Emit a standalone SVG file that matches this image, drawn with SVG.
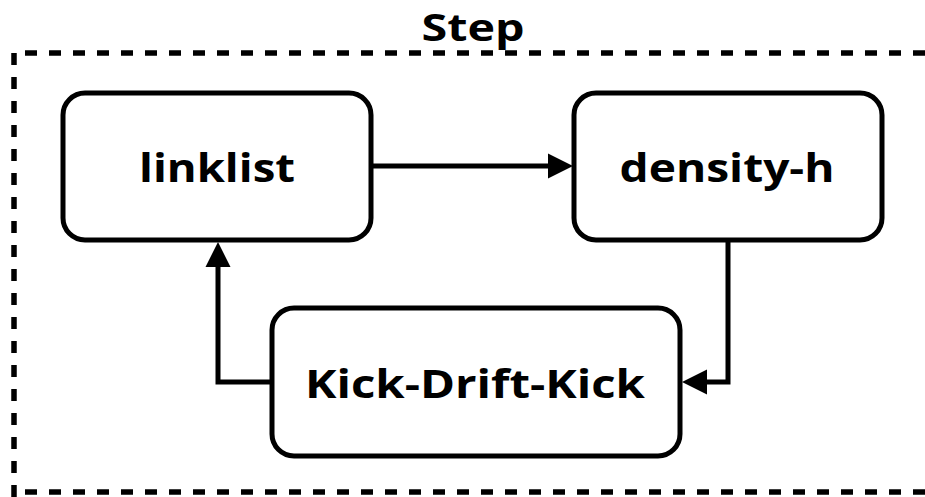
<svg xmlns="http://www.w3.org/2000/svg" width="925" height="497" viewBox="0 0 925 497">
<defs>
<style>
.node{fill:#fff;stroke:#000;stroke-width:5}
.lbl{font-family:"Open Sans","Liberation Sans",sans-serif;font-weight:700;font-size:40px;fill:#000;text-anchor:middle}
.edge{fill:none;stroke:#000;stroke-width:5}
.dash{fill:none;stroke:#000;stroke-width:5.5;stroke-dasharray:12 12}
</style>
</defs>
<rect width="925" height="497" fill="#fff"/>
<g id="step">
<path class="dash" d="M25 53 H940"/>
<path class="dash" d="M14 53 V500"/>
<path class="dash" d="M25 492 H940"/>
<text x="473" y="40.5" class="lbl" style="font-size:37px" textLength="103" lengthAdjust="spacingAndGlyphs">Step</text>
</g>
<g id="edges">
<path class="edge" d="M370 166 H550"/>
<polygon points="573,166 548,153.5 548,178.5" fill="#000"/>
<path class="edge" d="M728 240 V382 H705"/>
<polygon points="682,382 707,369.5 707,394.5" fill="#000"/>
<path class="edge" d="M272 382 H218 V265"/>
<polygon points="218,242 205.5,267 230.5,267" fill="#000"/>
</g>
<g id="linklist">
<rect class="node" x="63" y="93" width="308" height="147" rx="22"/>
<text class="lbl" x="217" y="182" textLength="156" lengthAdjust="spacingAndGlyphs">linklist</text>
</g>
<g id="density-h">
<rect class="node" x="574" y="93" width="308" height="147" rx="22"/>
<text class="lbl" x="727" y="182" textLength="215" lengthAdjust="spacingAndGlyphs">density-h</text>
</g>
<g id="kdk">
<rect class="node" x="272" y="308" width="408" height="148" rx="22"/>
<text class="lbl" x="475" y="398" textLength="340" lengthAdjust="spacingAndGlyphs">Kick-Drift-Kick</text>
</g>
</svg>
